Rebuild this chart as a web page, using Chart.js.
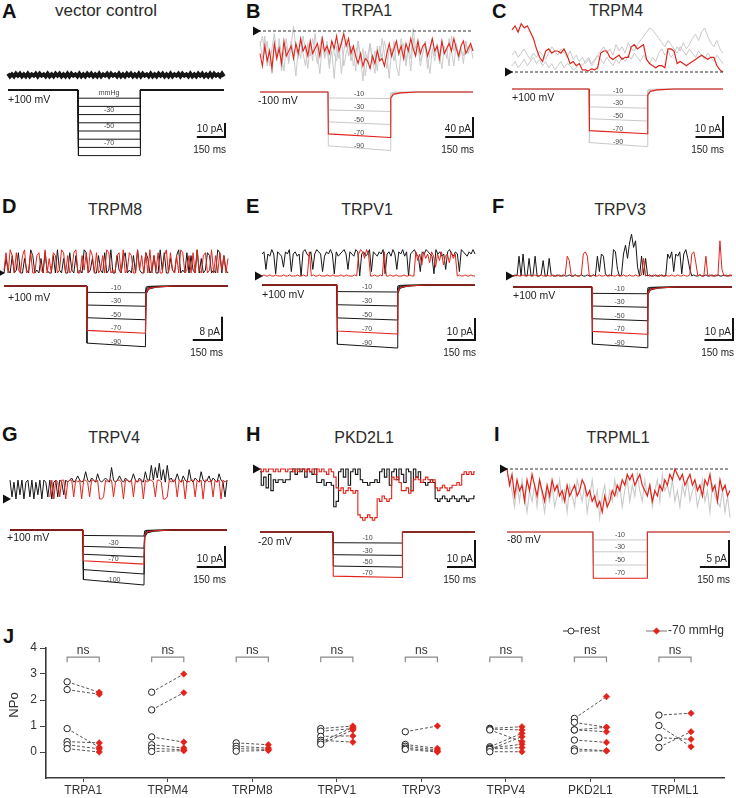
<!DOCTYPE html>
<html>
<head>
<meta charset="utf-8">
<script src="https://cdn.jsdelivr.net/npm/chart.js@4.4.1/dist/chart.umd.min.js"></script>
<style>
  body { margin: 0; background: #fff; }
  #fig { position: relative; width: 736px; height: 798px; overflow: hidden; font-family: "Liberation Sans", Arial, sans-serif; }
  #fig canvas { position: absolute; }
  .lt { position: absolute; font-weight: bold; font-size: 20px; line-height: 19px; color: #111; }
  .tt { position: absolute; font-size: 16px; line-height: 17px; color: #2a2a2a; transform: translateX(-50%); white-space: nowrap; }
</style>
</head>
<body>
<div id="fig"></div>
<script>
// ---- panel text ----
var letters = ['A', 'B', 'C', 'D', 'E', 'F', 'G', 'H', 'I'];
var titles = ['vector control', 'TRPA1', 'TRPM4', 'TRPM8', 'TRPV1', 'TRPV3', 'TRPV4', 'PKD2L1', 'TRPML1'];
var holdV = ['+100 mV', '-100 mV', '+100 mV', '+100 mV', '+100 mV', '+100 mV', '+100 mV', '-20 mV', '-80 mV'];
var barPA = [10, 40, 10, 8, 10, 10, 10, 10, 5];
var barMs = 150;

// ---- pressure protocol (ms, mmHg) ----
var sweepMs = 1150;
var stepOn = [373, 367, 420, 424, 405, 415, 387, 390, 443];
var stepOff = [703, 702, 736, 726, 729, 704, 710, 760, 722];
var levels = [
  [-10, -20, -30, -40, -50, -60, -70, -80],
  [-10, -30, -50, -70, -90],
  [-10, -30, -50, -70, -90],
  [-10, -30, -50, -70, -90],
  [-10, -30, -50, -70, -90],
  [-10, -30, -50, -70, -90],
  [-11, -33, -49, -62, -80, -100],
  [-17, -36, -54, -70],
  [-12, -30, -50, -70]
];
var levelLabels = [
  ['mmHg', '', '-30', '', '-50', '', '-70', ''],
  ['-10', '-30', '-50', '-70', '-90'],
  ['-10', '-30', '-50', '-70', '-90'],
  ['-10', '-30', '-50', '-70', '-90'],
  ['-10', '-30', '-50', '-70', '-90'],
  ['-10', '-30', '-50', '-70', '-90'],
  ['', '-30', '', '-70', '', '-100'],
  ['-10', '-30', '-50', '-70'],
  ['-10', '-30', '-50', '-70']
];
var redLevel = [-1, 3, 3, 3, 3, 3, 3, 3, 3];
var recovMs = [0, 4, 18, 55, 150];
var recovFrac = [1, 0.13, 0.05, 0.02, 0];

// ---- current traces (pA, evenly spaced over the sweep) ----
var aBlack = [1,-1,0.5,-1,1,-0.5,1,-1,0.5,-1,1,-1,0.5,-0.5,1,-1,1,-0.5,0.5,-1,1,-1,0.5,-1,1,-0.5,1,-1,0.5,-1,1,-1,1,-0.5,0.5,-1,1,-1,0.5,-1,1,-0.5,1,-1,0.5,-1,1,-1,0.5,-0.5,1,-1,1,-0.5,0.5,-1,1,-1,0.5,-1,1,-0.5,1,-1,0.5,-1,1,-1,1,-0.5,0.5,-1,1,-1,0.5,-1,1,-0.5,1,-1,0.5,-1,1,-1,0.5,-0.5,1,-1,1,-0.5,0.5,-1,1,-1,0.5,-1,1,-0.5,1,-1,0.5,-1,1,-1,1,-0.5,0.5,-1,1,-1];

var bGrey1 = [-20,-55,-10,-70,-35,-85,-25,-60,-15,-50,-80,-30,-65,-20,-45,-90,-35,-55,-10,-40,-75,-25,-60,-5,-45,-85,-30,-50,-20,-65,-40,-95,-30,-55,-15,-70,-45,-25,-60,-35,-80,-20,-50,-100,-40,-65,-25,-55,-85,-30,-60,-15,-45,-75,-35,-55,-20,-70,-90,-40,-25,-60,-35,-80,-15,-50,-30,-70,-45,-20,-55,-85,-35,-60,-25,-45,-75,-30,-55,-15,-40,-70,-25,-50,-35,-65,-20,-45,-30,-55];
var bGrey2 = [-30,-10,-45,-20,-70,-35,-5,-50,-25,-80,-40,-15,-60,-30,10,-35,-55,-20,-45,-70,-25,-50,-15,-40,-65,-30,-10,-55,-35,-75,-20,-45,-60,-25,-85,-40,-15,-50,-30,-70,-45,-20,-60,-35,-90,-50,-25,-65,-40,-80,-30,-55,-20,-45,-95,-35,-60,-25,-50,-15,-40,-70,-30,-55,5,-35,-20,-60,-45,-25,-75,-40,-15,-50,-30,-65,-20,-45,-35,-70,-10,-40,-25,-60,-35,-50,-20,-45,-30,-40];
var bRed = [-45,-70,-30,-60,-40,-75,-25,-55,-35,-65,-20,-50,-40,-30,-55,-25,-45,-15,-40,-30,-50,-20,-45,-35,-25,-50,-15,-40,-30,-45,-20,-35,-10,-40,-25,-5,-30,-15,-45,-30,-50,-65,-45,-70,-55,-60,-75,-50,-65,-40,-60,-55,-70,-45,-25,-50,-35,-20,-45,-30,-55,-25,-40,-15,-35,-50,-20,-45,-30,-25,-50,-35,-15,-40,-30,-55,-20,-45,-35,-25,-40,-15,-35,-50,-30,-20,-45,-35,-25,-40];

var cGrey1 = [8,10,7,9,11,8,6,9,7,10,8,6,9,12,10,8,11,9,7,10,6,8,5,7,4,6,3,5,8,10,12,9,11,8,13,10,12,9,14,11,10,13,15,17,19,21,20,18,16,14,12,15,13,11,9,12,10,8,11,9,7,10,8,6,9,7,5,8,6,4];
var cGrey2 = [3,5,2,4,6,3,5,7,4,6,3,5,2,4,1,3,5,2,4,3,1,2,4,3,5,7,4,6,8,6,4,7,5,3,6,4,7,5,8,6,9,7,5,8,6,4,7,5,9,11,8,10,7,9,12,10,14,11,13,16,18,15,19,21,17,14,12,15,11,9];
var cRed = [20,22,19,23,21,22,19,16,11,7,5,10,11,9,10,10,9,11,8,4,5,3,4,1,1,0.5,1.5,1,2,9,10,10,7,6,7,8,6,7,7,12,13,11,12,13,6,4,3,2,3,3,2,11,11,10,4,5,4,3,4,5,6,7,8,7,6,7,7,3,1,0];

var dBlack = [0,5,1,0,6,0,1,7,0,0,5,1,0,8,6,0,1,0,5,0,7,1,0,0,6,0,8,1,0,5,0,0,7,1,0,6,0,1,0,8,7,0,1,5,0,0,6,1,0,7,0,1,8,0,0,6,1,0,5,7,0,1,0,6,0,8,1,0,0,7,5,0,1,6,0,0,8,1,7,0,0,5,1,0,6,8,0,1,0,7,0,6,1,0,8,0,5,0,1,7,6,0,1,0,8,7,0,6,1,0];
var dRed = [1,7,0,8,6,0,7,1,0,6,8,0,1,7,0,0,6,7,1,0,8,0,5,0,7,6,0,1,8,7,0,6,0,1,7,8,0,0,6,1,7,0,8,6,0,7,0,1,6,0,8,7,0,1,0,6,7,0,8,0,1,7,6,0,0,8,1,6,0,7,0,8,0,6,1,7,0,0,6,8,0,7,1,0,6,0,8,7,0,1,6,0,7,0,8,1,0,6,7,0,1,8,0,6,0,7,1,6,0,5];

var eBlack = [10,11,3,10,9,12,10,1,11,10,9,4,11,10,12,2,10,11,9,10,0,11,12,10,9,11,3,10,12,11,10,2,9,11,10,12,10,1,11,9,10,11,12,10,3,11,10,9,12,11,0,10,11,9,10,12,2,11,10,9,11,10,12,1,10,11,9,12,10,3,11,10,12,9,11,0,10,11,12,10,9,2,11,10,12,11,10,9,1,12,10,11,9,10,3,11,12,10,9,11,10,2,12,11,10,9,11,10,12,10];
var eRed = [0,0.5,0,0,0.5,0,0,0.5,0,0,0,0.5,0,0,0.5,0,0,0,0.5,0,0,0.5,0,0,11,0,0.5,0,0,0.5,0,0,0,0.5,0,0,0.5,0,0,0,0.5,0,0,0.5,0,0,0,0.5,0,10,12,11,8,12,10,0,0,0.5,0,0,0.5,0,11,0,0,0.5,0,0,0.5,0,0,0,0.5,0,0,0.5,0,0,11,7,10,5,11,8,10,6,11,9,4,10,7,11,5,9,10,6,11,8,10,0,0.5,0,0,0.5,0,0,0.5,0,0];

var fBlack = [0,0.5,0,9,0,10,0.5,0,8,0, 0.5,9,0,0,0.5,7,0,0,8,0.5, 0,0,0.5,0,0,0.5,0,0,0.5,0, 0,0.5,0,0,0.5,0,0,0.5,0,0, 0.5,0,9,2,10,9,1,0,0.5,0, 12,11,3,0,0.5,10,14,8,15,19, 13,16,4,0,9,0.5,8,0,0.5,0, 0,0.5,0,0,0.5,0,0,10,8,11, 2,10,9,11,1,10,12,8,3,0, 0.5,0,0,0.5,0,0,0.5,0,0,0.5, 0,0,0.5,0,0,0.5,0,0,0.5,0];
var fRed = [0,0,0.5,0,0,0.5,0,0,0.5,0, 0,0.5,0,0,0.5,0,0,0.5,0,0, 0.5,0,0,0.5,0,0,0.5,9,7,0, 0,0.5,0,0,0.5,10,11,9,0,0, 0.5,0,0,0.5,0,0,0.5,0,0,0.5, 0,0,0.5,0,0,0.5,0,0,0.5,0, 0,0.5,0,0,0.5,8,0,0.5,0,0, 0.5,0,0,0.5,0,0,0.5,0,0,0.5, 0,0,0.5,0,0,0.5,0,0,0.5,10, 11,6,0,0.5,0,0,9,0,0.5,0, 0,0.5,0,16,3,0,0.5,0,0,0.5];

var gBlack = [9,1,8,0,9,2,9,0,8,9,1,9,0,8,2,9,0,9,8,1,9,0,8,9,1,9,8,2,9,8,9,10,8,9,11,9,8,9,13,9,8,10,9,8,12,9,8,9,10,9,8,15,9,8,9,11,9,8,10,9,8,9,12,9,8,10,9,8,13,9,9,16,9,15,10,17,9,14,8,16,9,10,8,9,12,9,8,11,9,8,14,9,8,10,9,8,13,9,8,9,11,8,10,9,8,12,9,8,1,9];
var gRed = [null,null,null,null,null,null,null,null,null,null,null,null,null,null,null,null,null,null,null,null,1,9,0,9,8,1,9,9,0,8,9,9,1,9,8,9,0,9,9,8,1,9,9,8,9,0,0,1,9,8,9,9,1,8,9,9,8,0,9,9,8,9,1,9,8,9,9,0,9,8,9,9,8,1,9,9,8,0,0,1,9,8,9,9,1,9,8,9,0,9,8,9,9,1,9,8,9,0,9,9,8,9,1,9,8,9,0,9,8,9];

var hBlack = [-1,-6,-3,-7,-2,-8,-4,-5,-4,-4, -5,-4,-4,-1,0,-2,0,-1,0,-3, 0,-1,-2,0,-5,-5,-4,-6,-5,-5, -6,-14,-12,-1,0,-3,0,-6,-1,0, -2,0,-4,-5,-5,-6,-5,-5,-4,-5, -1,0,-3,0,-6,-1,0,-4,0,-2, -5,0,-1,-8,0,-3,-1,-5,-5,-6, -5,-4,-5,-11,-12,-11,-10,-11,-12,-11, -10,-11,-12,-11,-10,-11,-12,-11,-11,-10];
var hRed = [0,-1,0,-1,0,0,-1,0,-1,0, 0,-1,0,0,-1,0,-1,0,0,-1, 0,-1,0,-2,0,-1,0,-1,-2,0, -1,-3,-7,-8,-7,-9,-8,-7,-8,-9, -8,-17,-18,-19,-18,-17,-18,-19,-18,-11, -12,-10,-11,-12,-11,-3,-4,-3,-5,-8, -8,-7,-9,-8,-4,-3,-4,-5,-4,-3, -4,-5,-4,-7,-8,-7,-6,-7,-8,-7, -6,-6,-5,-6,-2,-1,-2,-1,-2,-1];

var iGrey = [-1,-2,-4,-7,-3,-6,-2,-5,-8,-4,-6,-3,-7,-2,-5,-8,-4,-6,-3,-7,-5,-2,-6,-4,-8,-3,-5,-7,-2,-4,-6,-3,-8,-5,-2,-6,-4,-9,-5,-3,-7,-4,-6,-2,-5,-3,-7,-4,-2,-6,-3,-5,-1,-4,-6,-2,-5,-3,-7,-4,-2,-6,-1,-4,-3,-5,-2,-6,-4,-7,-3,-5,-2,-6,-4,-3,-7,-5,-2,-6,-4,-8,-3,-5,-6,-7,-4,-8,-5,-9];
var iRed = [0,-3,-1,-5,-2,-4,-3,-6,-2,-4,-1,-3,-5,-2,-4,-6,-3,-5,-2,-4,-3,-5,-4,-6,-3,-5,-4,-3,-5,-4,-2,-3,-5,-4,-6,-5,-7,-6,-8,-5,-7,-6,-4,-5,-3,-4,-2,-3,-1,-2,-1,-3,-2,-1,-3,-4,-5,-3,-6,-4,-5,-3,-4,-2,-3,-1,-2,0,-1,-2,-1,-3,-2,-1,-3,-2,-4,-3,-5,-2,-3,-1,-4,-3,-6,-2,-4,-3,-5,-4];

// ---- panel J: open probability ----
var channels = ['TRPA1', 'TRPM4', 'TRPM8', 'TRPV1', 'TRPV3', 'TRPV4', 'PKD2L1', 'TRPML1'];
var restNPo = [
  [2.7, 2.4, 0.9, 0.4, 0.28, 0.13],
  [2.3, 1.62, 0.58, 0.28, 0.15, 0.02],
  [0.35, 0.22, 0.13, 0.03],
  [0.9, 0.8, 0.6, 0.45, 0.38, 0.3],
  [0.78, 0.29, 0.22, 0.15, 0.1],
  [0.91, 0.88, 0.85, 0.2, 0.15, 0.12, 0.1, 0.01],
  [1.29, 1.14, 0.85, 0.85, 0.46, 0.12, 0.04],
  [1.42, 1.02, 0.55, 0.18]
];
var stimNPo = [
  [2.3, 2.22, 0.18, 0.35, 0.12, 0.0],
  [3.0, 2.28, 0.38, 0.15, 0.08, 0.05],
  [0.28, 0.15, 0.1, 0.06],
  [1.0, 0.9, 0.62, 0.38, 0.95, 0.85],
  [1.0, 0.14, 0.08, 0.03, 0.0],
  [0.97, 0.85, 0.4, 0.72, 0.3, 0.17, 0.59, 0.01],
  [2.13, 0.95, 0.95, 0.78, 0.37, 0.05, 0.04],
  [1.49, 0.2, 0.49, 0.78]
];
var yTicksJ = [0, 1, 2, 3, 4];

// ---- layout (pixels in the 736x798 figure) ----
var RED = '#e2231a';
var GREY = '#c9c9c9';
var BLACK = '#161616';
// tr entries: [values, colour, width, stepped]
var layout = [
  {L: 0,   top: 18,  W: 245, H: 167, Xs: 8,   Xe: 224, Yb: 75,  s: 1.4, Yp: 90,  sp: 0.82,  volt: [8, 100],   bar: [225, 137], tri: false, dash: false, pCol: BLACK, slow: false, droop: 1,    tr: [[aBlack, BLACK, 3.8, false]]},
  {L: 245, top: 18,  W: 245, H: 167, Xs: 260, Xe: 473, Yb: 31,  s: 0.5, Yp: 92,  sp: 0.65,  volt: [258, 101], bar: [473, 137], tri: true,  dash: true,  pCol: GREY,  slow: true,  droop: 0.92, tr: [[bGrey1, GREY, 1, false], [bGrey2, GREY, 1, false], [bRed, RED, 1.1, false]]},
  {L: 490, top: 18,  W: 246, H: 167, Xs: 512, Xe: 723, Yb: 72,  s: 2.1, Yp: 89,  sp: 0.64,  volt: [512, 98],  bar: [723, 137], tri: true,  dash: true,  pCol: GREY,  slow: true,  droop: 0.93, tr: [[cGrey1, GREY, 1, false], [cGrey2, GREY, 1, false], [cRed, RED, 1.2, false]]},
  {L: 0,   top: 225, W: 245, H: 160, Xs: 4,   Xe: 228, Yb: 273, s: 2.9, Yp: 286, sp: 0.675, volt: [8, 298],   bar: [222, 340], tri: true,  dash: false, pCol: BLACK, slow: true,  droop: 0.94, tr: [[dBlack, BLACK, 1, false], [dRed, RED, 1, false]]},
  {L: 245, top: 225, W: 245, H: 160, Xs: 262, Xe: 475, Yb: 276, s: 2.2, Yp: 285, sp: 0.7,   volt: [262, 295], bar: [475, 340], tri: true,  dash: false, pCol: BLACK, slow: true,  droop: 0.94, tr: [[eBlack, BLACK, 1, false], [eRed, RED, 1, false]]},
  {L: 490, top: 225, W: 246, H: 160, Xs: 513, Xe: 732, Yb: 276, s: 2.2, Yp: 287, sp: 0.675, volt: [513, 296], bar: [733, 340], tri: true,  dash: false, pCol: BLACK, slow: true,  droop: 0.94, tr: [[fBlack, BLACK, 1, false], [fRed, RED, 1, false]]},
  {L: 0,   top: 452, W: 245, H: 160, Xs: 10,  Xe: 227, Yb: 499, s: 2.1, Yp: 530, sp: 0.55,  volt: [7, 538],   bar: [225, 567], tri: true,  dash: false, pCol: BLACK, slow: true,  droop: 0.9,  tr: [[gBlack, BLACK, 1, false], [gRed, RED, 1, false]]},
  {L: 245, top: 452, W: 245, H: 160, Xs: 260, Xe: 475, Yb: 469, s: 2.7, Yp: 532, sp: 0.65,  volt: [258, 542], bar: [475, 567], tri: true,  dash: false, pCol: BLACK, slow: false, droop: 0.97, tr: [[hBlack, BLACK, 1.1, true], [hRed, RED, 1.1, true]]},
  {L: 490, top: 452, W: 246, H: 160, Xs: 507, Xe: 730, Yb: 469, s: 5.4, Yp: 532, sp: 0.66,  volt: [507, 540], bar: [729, 567], tri: true,  dash: true,  pCol: GREY,  slow: false, droop: 1,    tr: [[iGrey, GREY, 1.1, false], [iRed, RED, 1.2, false]]}
];
var letterPos = [[2, 2], [246, 2], [492, 2], [2, 196.5], [246, 196.5], [492, 196.5], [2, 425], [246, 425], [494, 425]];
var titlePos = [[106, 2.4], [367, 2.4], [616, 2.4], [115, 200.6], [367, 200.6], [620, 200.6], [114, 428.6], [364, 428.6], [618, 428.6]];

Chart.defaults.font.family = '"Liberation Sans", Arial, sans-serif';
var fig = document.getElementById('fig');

function addText(cls, txt, x, y, size) {
  var d = document.createElement('div');
  d.className = cls;
  d.textContent = txt;
  d.style.left = x + 'px';
  d.style.top = y + 'px';
  if (size) d.style.fontSize = size + 'px';
  fig.appendChild(d);
}

function protoData(i, P) {
  var g = layout[i];
  var on = stepOn[i], off = stepOff[i];
  var pts = [{x: 0, y: 0}, {x: on, y: 0}, {x: on + 2, y: P * g.droop}, {x: off, y: P}];
  var rt = g.slow ? recovMs : [0, 2];
  var rf = g.slow ? recovFrac : [1, 0];
  for (var n = 1; n < rt.length; n++) pts.push({x: off + rt[n], y: P * rf[n]});
  pts.push({x: sweepMs, y: 0});
  return pts;
}

function tracePanel(i) {
  var g = layout[i];
  var cv = document.createElement('canvas');
  cv.width = g.W; cv.height = g.H;
  cv.style.left = g.L + 'px'; cv.style.top = g.top + 'px';
  cv.style.width = g.W + 'px'; cv.style.height = g.H + 'px';
  fig.appendChild(cv);

  var k = sweepMs / (g.Xe - g.Xs); // ms per pixel
  var iMax = (g.Yb - g.top) / g.s, pMax = (g.Yp - g.top) / g.sp;

  // bottom -> top
  var ds = [];
  levels[i].forEach(function (P, j) {
    if (j !== redLevel[i]) ds.push({data: protoData(i, P), yAxisID: 'yP', borderColor: g.pCol, borderWidth: 1});
  });
  if (redLevel[i] >= 0) ds.push({data: protoData(i, levels[i][redLevel[i]]), yAxisID: 'yP', borderColor: RED, borderWidth: 1.1});
  g.tr.forEach(function (t) {
    var arr = t[0];
    ds.push({
      data: arr.map(function (v, n) { return {x: n * sweepMs / (arr.length - 1), y: v}; }),
      yAxisID: 'yI', borderColor: t[1], borderWidth: t[2], stepped: t[3] ? 'middle' : false, spanGaps: false
    });
  });
  ds.reverse();

  var deco = {
    id: 'deco' + i,
    afterDatasetsDraw: function (chart) {
      var ctx = chart.ctx, xs = chart.scales.x, yI = chart.scales.yI, yP = chart.scales.yP;
      var x0 = xs.getPixelForValue(0), y0 = yI.getPixelForValue(0);
      ctx.save();
      if (g.dash) {
        ctx.strokeStyle = '#333'; ctx.lineWidth = 1; ctx.setLineDash([3, 2]);
        ctx.beginPath(); ctx.moveTo(x0 - 2, y0); ctx.lineTo(xs.getPixelForValue(sweepMs), y0); ctx.stroke();
        ctx.setLineDash([]);
      }
      if (g.tri) {
        ctx.fillStyle = '#111';
        ctx.beginPath(); ctx.moveTo(x0 + 1, y0); ctx.lineTo(x0 - 7, y0 - 4.5); ctx.lineTo(x0 - 7, y0 + 4.5); ctx.closePath(); ctx.fill();
      }
      // pressure labels
      ctx.fillStyle = '#444'; ctx.font = '7px "Liberation Sans", Arial, sans-serif';
      ctx.textAlign = 'center'; ctx.textBaseline = 'bottom';
      var xm = xs.getPixelForValue((stepOn[i] + stepOff[i]) / 2);
      levels[i].forEach(function (P, j) {
        var lab = levelLabels[i][j];
        if (lab) ctx.fillText(lab, xm, yP.getPixelForValue(P) - 1.2);
      });
      // holding potential
      ctx.fillStyle = '#222'; ctx.font = '10.5px "Liberation Sans", Arial, sans-serif';
      ctx.textAlign = 'left'; ctx.textBaseline = 'middle';
      ctx.fillText(holdV[i], g.volt[0] - g.L, g.volt[1] - g.top);
      // scale bar
      var bx = g.bar[0] - g.L, by = g.bar[1] - g.top;
      var vLen = yI.getPixelForValue(0) - yI.getPixelForValue(barPA[i]);
      var hLen = xs.getPixelForValue(barMs) - xs.getPixelForValue(0);
      ctx.strokeStyle = '#111'; ctx.lineWidth = 2;
      ctx.beginPath(); ctx.moveTo(bx, by - vLen); ctx.lineTo(bx, by); ctx.lineTo(bx - hLen, by); ctx.stroke();
      ctx.font = '10px "Liberation Sans", Arial, sans-serif';
      ctx.textAlign = 'right'; ctx.textBaseline = 'alphabetic';
      ctx.fillText(barPA[i] + ' pA', bx - 2, by - 5);
      ctx.textBaseline = 'middle';
      ctx.fillText(barMs + ' ms', bx + 1, by + 13);
      ctx.restore();
    }
  };

  new Chart(cv, {
    type: 'line',
    data: {datasets: ds},
    options: {
      animation: false, responsive: false, maintainAspectRatio: false,
      layout: {padding: 0},
      elements: {point: {radius: 0}, line: {tension: 0}},
      plugins: {legend: {display: false}, tooltip: {enabled: false}},
      scales: {
        x: {type: 'linear', display: false, min: -(g.Xs - g.L) * k, max: (g.L + g.W - g.Xs) * k},
        yI: {type: 'linear', display: false, max: iMax, min: iMax - g.H / g.s},
        yP: {type: 'linear', display: false, max: pMax, min: pMax - g.H / g.sp}
      }
    },
    plugins: [deco]
  });
}

for (var i = 0; i < 9; i++) {
  addText('lt', letters[i], letterPos[i][0], letterPos[i][1]);
  addText('tt', titles[i], titlePos[i][0], titlePos[i][1], i === 0 ? 17 : 16);
  tracePanel(i);
}
addText('lt', 'J', 3, 627);

// ---- panel J ----
var cvJ = document.createElement('canvas');
cvJ.width = 736; cvJ.height = 183;
cvJ.style.left = '0px'; cvJ.style.top = '615px';
cvJ.style.width = '736px'; cvJ.style.height = '183px';
fig.appendChild(cvJ);

var off = 0.19;
var pairLines = [], restPts = [], stimPts = [];
channels.forEach(function (c, ci) {
  restNPo[ci].forEach(function (r, n) {
    var s = stimNPo[ci][n];
    restPts.push({x: ci - off, y: r});
    stimPts.push({x: ci + off, y: s});
    pairLines.push({x: ci - off, y: r}, {x: ci + off, y: s}, {x: ci, y: null});
  });
});

var jDeco = {
  id: 'jdeco',
  afterDraw: function (chart) {
    var ctx = chart.ctx, xs = chart.scales.x, ys = chart.scales.y;
    ctx.save();
    ctx.font = '12px "Liberation Sans", Arial, sans-serif';
    // ns brackets
    channels.forEach(function (c, ci) {
      var xa = xs.getPixelForValue(ci - off), xb = xs.getPixelForValue(ci + off);
      var yb = ys.getPixelForValue(3.65), yt = ys.getPixelForValue(3.45);
      ctx.strokeStyle = '#8a8a8a'; ctx.lineWidth = 1.2;
      ctx.beginPath(); ctx.moveTo(xa, yt); ctx.lineTo(xa, yb); ctx.lineTo(xb, yb); ctx.lineTo(xb, yt); ctx.stroke();
      ctx.fillStyle = '#333'; ctx.textAlign = 'center'; ctx.textBaseline = 'alphabetic';
      ctx.fillText('ns', xs.getPixelForValue(ci), ys.getPixelForValue(3.92) + 4);
    });
    // y title
    ctx.save();
    ctx.font = '13px "Liberation Sans", Arial, sans-serif';
    ctx.translate(14, 90); ctx.rotate(-Math.PI / 2);
    ctx.textAlign = 'center'; ctx.textBaseline = 'middle'; ctx.fillStyle = '#333';
    ctx.fillText('NPo', 0, 0);
    ctx.restore();
    // legend
    var ly = 16;
    ctx.strokeStyle = '#333'; ctx.lineWidth = 1;
    ctx.beginPath(); ctx.moveTo(563, ly); ctx.lineTo(579, ly); ctx.stroke();
    ctx.fillStyle = '#fff';
    ctx.beginPath(); ctx.arc(571, ly, 3, 0, Math.PI * 2); ctx.fill(); ctx.stroke();
    ctx.fillStyle = '#333'; ctx.textAlign = 'left'; ctx.textBaseline = 'middle';
    ctx.fillText('rest', 580, ly);
    ctx.strokeStyle = '#777';
    ctx.beginPath(); ctx.moveTo(646, ly); ctx.lineTo(667, ly); ctx.stroke();
    ctx.fillStyle = RED;
    ctx.beginPath(); ctx.moveTo(656.5, ly - 3.5); ctx.lineTo(660, ly); ctx.lineTo(656.5, ly + 3.5); ctx.lineTo(653, ly); ctx.closePath(); ctx.fill();
    ctx.fillStyle = '#333';
    ctx.fillText('-70 mmHg', 668, ly);
    ctx.restore();
  }
};

new Chart(cvJ, {
  type: 'scatter',
  data: {
    datasets: [
      {data: stimPts, pointStyle: 'rectRot', pointRadius: 3.3, backgroundColor: RED, borderColor: RED, borderWidth: 0.5},
      {data: restPts, pointStyle: 'circle', pointRadius: 3.2, backgroundColor: '#fff', borderColor: '#222', borderWidth: 1},
      {data: pairLines, showLine: true, spanGaps: false, pointRadius: 0, borderColor: '#555', borderWidth: 1, borderDash: [3, 2]}
    ]
  },
  options: {
    animation: false, responsive: false, maintainAspectRatio: false,
    layout: {padding: {left: 0, right: 12, top: 33, bottom: 0}},
    plugins: {legend: {display: false}, tooltip: {enabled: false}},
    scales: {
      x: {
        type: 'linear', min: -0.44, max: 7.58,
        afterBuildTicks: function (s) { s.ticks = channels.map(function (c, ci) { return {value: ci}; }); },
        afterFit: function (s) { s.height = 20; },
        grid: {display: true, drawOnChartArea: false, tickLength: 4, color: '#444'},
        border: {display: true, color: '#3a3a3a', width: 1.6},
        ticks: {autoSkip: false, maxRotation: 0, padding: 1, color: '#333', font: {size: 12},
          callback: function (v) { return channels[v]; }}
      },
      y: {
        type: 'linear', min: -1, max: 4,
        afterBuildTicks: function (s) { s.ticks = yTicksJ.map(function (v) { return {value: v}; }); },
        afterFit: function (s) { s.width = 46; },
        grid: {display: true, drawOnChartArea: false, tickLength: 6, color: '#444'},
        border: {display: true, color: '#3a3a3a', width: 1.6},
        ticks: {padding: 3, color: '#333', font: {size: 12}}
      }
    }
  },
  plugins: [jDeco]
});
</script>
</body>
</html>
